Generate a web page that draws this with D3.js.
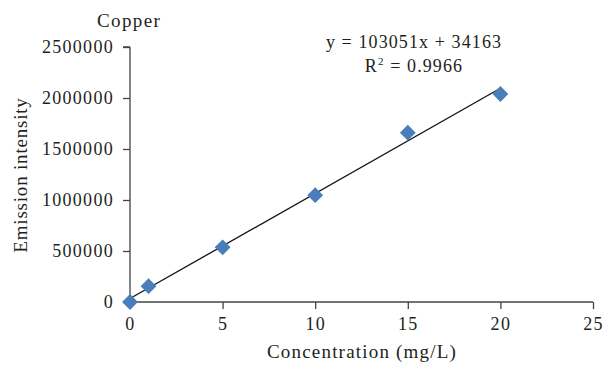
<!DOCTYPE html>
<html><head><meta charset="utf-8">
<script src="https://cdn.jsdelivr.net/npm/d3@7"></script>
<style>body{margin:0;background:#fff}svg text{font-family:"Liberation Serif","DejaVu Serif",serif;fill:#231f20}</style>
</head><body>
<svg id="c" width="606" height="371"></svg>
<script>
const concentration = [0, 1, 5, 10, 15, 20];
const intensity = [0, 155000, 536000, 1047000, 1660000, 2039000];
const slope = 103051, intercept = 34163;
const xTicks = [0, 5, 10, 15, 20, 25];
const yTicks = [0, 500000, 1000000, 1500000, 2000000, 2500000];

const svg = d3.select("#c");
const m = {l:130, r:13, t:47, b:69};
const W = 606, H = 371;
const x = d3.scaleLinear().domain([0,25]).range([m.l, W-m.r]);
const y = d3.scaleLinear().domain([0,2500000]).range([H-m.b, m.t]);

const ax = svg.append("g").attr("transform",`translate(0,${y(0)})`)
  .call(d3.axisBottom(x).tickValues(xTicks).tickSize(7).tickPadding(8).tickFormat(d3.format("d")));
const ay = svg.append("g").attr("transform",`translate(${x(0)},0)`)
  .call(d3.axisLeft(y).tickValues(yTicks).tickSize(7).tickPadding(9).tickFormat(d3.format("d")));
[ax,ay].forEach(g=>{
  g.select(".domain").attr("stroke","#444").attr("stroke-width",1.3);
  g.selectAll(".tick line").attr("stroke","#444").attr("stroke-width",1.3);
  g.selectAll(".tick text").style("font-size","18px").style("letter-spacing","1.3px").attr("fill","#231f20");
});
ax.selectAll(".tick").filter(d=>d===0).select("line").remove();
ay.select(".domain").attr("d",`M0,${y(2500000)}H-7M0,${y(2500000)}V${y(0)}`);
ax.select(".domain").attr("d",`M${x(0)},0H${x(25)}`);

svg.append("line").attr("x1",x(0)).attr("y1",y(intercept)).attr("x2",x(20)).attr("y2",y(slope*20+intercept))
  .attr("stroke","#111").attr("stroke-width",1.3);

const sym = d3.symbol().type(d3.symbolSquare).size(125);
svg.selectAll("path.pt").data(concentration).join("path").attr("class","pt")
  .attr("d",sym).attr("fill","#4a7ebb")
  .attr("transform",(d,i)=>`translate(${x(d)},${y(intensity[i])}) rotate(45)`);

svg.append("text").attr("x",97).attr("y",27).style("font-size","19px").style("letter-spacing","1.4px").text("Copper");
svg.append("text").attr("x",414).attr("y",48).attr("text-anchor","middle").style("font-size","18px").style("letter-spacing","1.1px").text("y = 103051x + 34163");
const r = svg.append("text").attr("x",414).attr("y",72).attr("text-anchor","middle").style("font-size","18px").style("letter-spacing","1.1px");
r.append("tspan").text("R");
r.append("tspan").attr("dy",-7).style("font-size","11px").text("2");
r.append("tspan").attr("dy",7).text(" = 0.9966");
svg.append("text").attr("x",362).attr("y",358).attr("text-anchor","middle").style("font-size","19px").style("letter-spacing","1.2px").text("Concentration (mg/L)");
svg.append("text").attr("transform","translate(27,175) rotate(-90)").attr("text-anchor","middle").style("font-size","19px").style("letter-spacing","0.8px").text("Emission intensity");
</script>
</body></html>
